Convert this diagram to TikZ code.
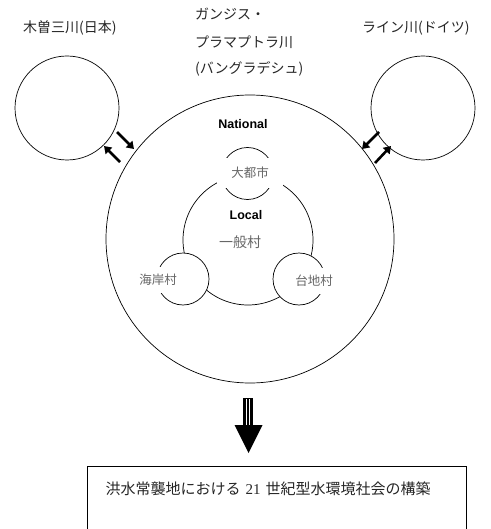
\documentclass[tikz,border=0pt]{standalone}
\usepackage{fontspec}
\newfontfamily\jp{Noto Sans CJK JP}
\newfontfamily\arialb{Liberation Sans}
\newfontfamily\timesr{Liberation Serif}
\usetikzlibrary{arrows.meta}
\tikzset{
  ring/.style={draw, circle, line width=0.7pt, inner sep=0pt},
  towncirc/.style={ring, fill=white, minimum size=52pt},
  toplabel/.style={font=\jp\fontsize{14}{16}\selectfont, inner sep=0pt, text=black!85, anchor=west},
  townlabel/.style={font=\jp\fontsize{12.5}{14}\selectfont, text=black!60, fill=white, inner sep=0pt},
  scalelabel/.style={font=\arialb\bfseries\fontsize{12.5}{14}\selectfont, inner sep=0pt},
  linkarrow/.style={line width=2.6pt, -{Triangle[length=7pt,width=9pt]}},
}
\begin{document}
\begin{tikzpicture}[x=1pt,y=-1pt]
\useasboundingbox (0,0) rectangle (490,529);
\clip (0,0) rectangle (490,529);
% river basins
\node[ring, minimum size=104pt] (kiso) at (67,108) {};
\node[ring, minimum size=104pt] (rhine) at (423,108) {};
\node[ring, minimum size=288pt] (nat) at (250,239) {};
\node[ring, minimum size=130pt] (loc) at (248,240) {};
\node[towncirc] (city) at (247.5,173.5) {};
\node[towncirc] (coast) at (183,279) {};
\node[towncirc] (plateau) at (299,279) {};
% labels
\node[toplabel] (lkiso) at (23,28) {木曽三川(日本)};
\node[toplabel] (lgan1) at (195,14) {ガンジス・};
\node[toplabel] (lgan2) at (195,42) {プラマプトラ川};
\node[toplabel] (lgan3) at (195,69) {(バングラデシュ)};
\node[toplabel] (lrhine) at (362,28) {ライン川(ドイツ)};
\node[scalelabel] (lnat) at (243,124) {National};
\node[scalelabel] (lloc) at (246,215) {Local};
\node[townlabel, fill=none, font=\jp\fontsize{14}{16}\selectfont] (lvil) at (240,242) {一般村};
\node[townlabel, minimum width=66pt, minimum height=30pt] (lcity) at (250,173) {大都市};
\node[townlabel, minimum width=44pt, minimum height=26pt] (lcoast) at (158,280) {海岸村};
\node[townlabel, minimum width=44pt, minimum height=26pt] (lplat) at (314,281) {台地村};
% exchange arrows
\coordinate (a1s) at (117,132); \coordinate (a1e) at (134,149);
\coordinate (a2s) at (120,162); \coordinate (a2e) at (104,146);
\coordinate (a3s) at (379,132); \coordinate (a3e) at (362,149);
\coordinate (a4s) at (375,163); \coordinate (a4e) at (391,146);
\draw[linkarrow] (a1s) -- (a1e);
\draw[linkarrow] (a2s) -- (a2e);
\draw[linkarrow] (a3s) -- (a3e);
\draw[linkarrow] (a4s) -- (a4e);
% big arrow
\fill (243,398) rectangle (253,426);
\draw[white, line width=0.9pt] (246.3,399) -- (246.3,426) (249.7,399) -- (249.7,426);
\fill (234.5,425) -- (262.5,425) -- (248.5,453) -- cycle;
% goal box
\draw[line width=0.7pt] (87,540) -- (87,466) -- (466,466) -- (466,540);
\node[inner sep=0pt, font=\jp\fontsize{15}{17}\selectfont, text=black!85] (goal) at (268,489) {洪水常襲地における\hspace{5pt}{\timesr 21}\hspace{5pt}世紀型水環境社会の構築};
\end{tikzpicture}
\end{document}
